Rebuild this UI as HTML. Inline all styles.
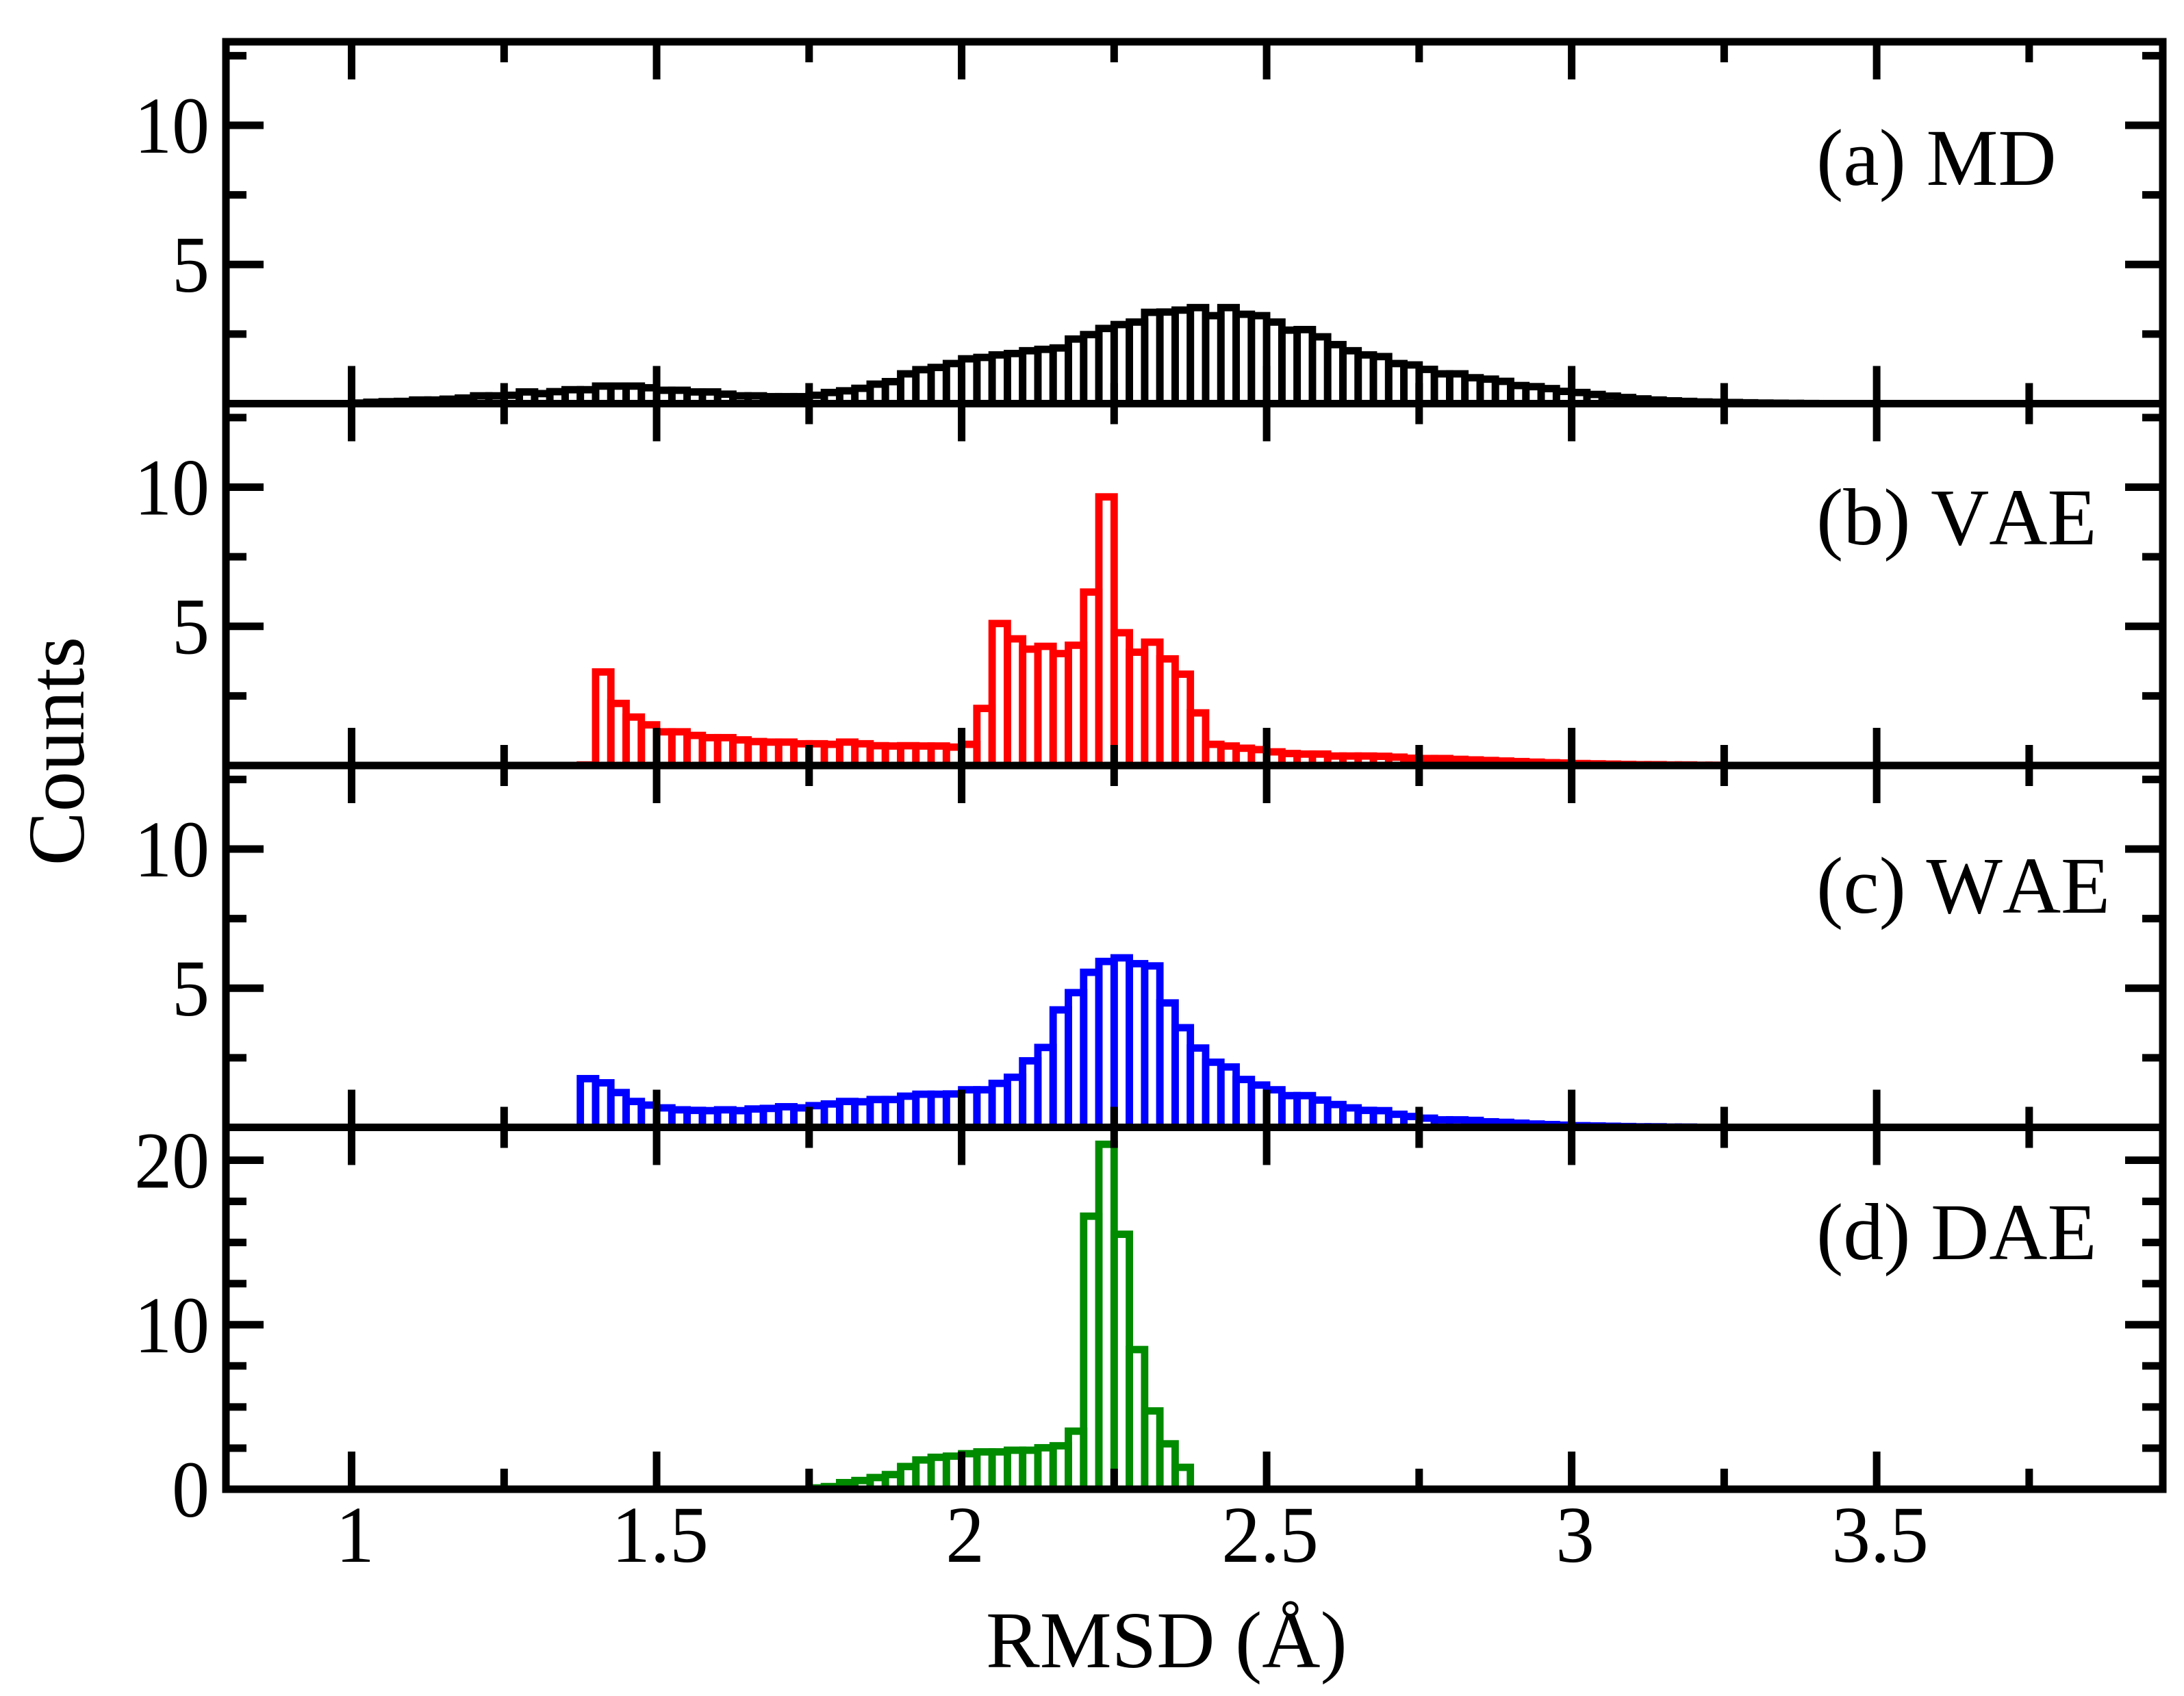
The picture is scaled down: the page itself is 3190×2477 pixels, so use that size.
<!DOCTYPE html>
<html lang="en">
<head>
<meta charset="utf-8">
<title>RMSD histograms</title>
<style>
html,body{margin:0;padding:0;background:#fff;}
svg{display:block;}
text{font-family:"Liberation Serif",serif;font-size:118px;fill:#000;font-kerning:none;}
</style>
</head>
<body>
<svg id="chart" xmlns="http://www.w3.org/2000/svg" width="3190" height="2477" viewBox="0 0 3190 2477">
<rect x="0" y="0" width="3190" height="2477" fill="#ffffff"/>
<g id="marks"></g>
<g id="axes"></g>
<text x="1440" y="2435">RMSD (Å)</text>
<text transform="translate(122 1097) rotate(-90)" text-anchor="middle">Counts</text>
<text x="2653" y="270">(a) MD</text>
<text x="2653" y="795">(b) VAE</text>
<text x="2653" y="1333">(c) WAE</text>
<text x="2653" y="1839">(d) DAE</text>
</svg>
<script>
// Chart data: bin width, first bin edge and counts per bin
const binWidth = 0.025;
const mdStart = 1.0;
const mdCounts = [0.02,0.05,0.07,0.08,0.13,0.13,0.16,0.2,0.28,0.28,0.3,0.42,0.36,0.43,0.5,0.5,0.63,0.63,0.63,0.57,0.48,0.48,0.42,0.42,0.34,0.28,0.28,0.25,0.25,0.25,0.3,0.4,0.46,0.55,0.7,0.79,1.07,1.22,1.3,1.44,1.61,1.66,1.75,1.8,1.9,1.95,2.0,2.32,2.48,2.7,2.84,2.93,3.28,3.29,3.36,3.45,3.16,3.45,3.21,3.16,2.93,2.64,2.66,2.4,2.12,1.9,1.75,1.69,1.44,1.39,1.23,1.07,1.07,0.93,0.88,0.8,0.65,0.61,0.54,0.44,0.4,0.33,0.27,0.22,0.17,0.13,0.1,0.08,0.06,0.05,0.04,0.03,0.02,0.015,0.01,0.005];
const vaeStart = 1.375;
const vaeCounts = [0.02,3.36,2.23,1.74,1.46,1.21,1.21,1.08,1.0,1.0,0.92,0.86,0.84,0.84,0.78,0.78,0.76,0.84,0.78,0.71,0.7,0.71,0.7,0.7,0.66,0.76,2.05,5.1,4.55,4.18,4.28,4.02,4.32,6.23,9.65,4.77,4.07,4.43,3.83,3.28,1.89,0.76,0.7,0.62,0.57,0.49,0.43,0.41,0.41,0.34,0.34,0.34,0.33,0.3,0.26,0.25,0.25,0.22,0.2,0.18,0.16,0.14,0.12,0.1,0.09,0.07,0.06,0.05,0.04,0.03,0.03,0.02,0.02,0.01,0.01];
const waeStart = 1.375;
const waeCounts = [1.75,1.6,1.25,0.93,0.8,0.7,0.63,0.61,0.6,0.63,0.6,0.66,0.68,0.74,0.7,0.78,0.84,0.93,0.92,1.0,1.0,1.12,1.19,1.19,1.2,1.35,1.35,1.58,1.8,2.39,2.87,4.22,4.84,5.57,5.96,6.09,5.88,5.8,4.47,3.58,2.85,2.34,2.17,1.72,1.52,1.35,1.14,1.14,0.98,0.82,0.7,0.61,0.6,0.47,0.39,0.33,0.27,0.27,0.25,0.2,0.18,0.15,0.12,0.1,0.08,0.06,0.05,0.04,0.03,0.02,0.02,0.01,0.01];
const daeStart = 1.75;
const daeCounts = [0.08,0.16,0.4,0.53,0.71,0.89,1.38,1.78,1.94,2.01,2.16,2.27,2.27,2.37,2.37,2.52,2.64,3.53,16.6,20.97,15.5,8.49,4.76,2.76,1.33];

// Tick values and labels
const xMajorTicks = [1,1.5,2,2.5,3,3.5];
const xMajorLabels = ["1","1.5","2","2.5","3","3.5"];
const xMinorTicks = [1.25,1.75,2.25,2.75,3.25,3.75];
const yMajorTicksUpper = [5,10];
const yMajorLabelsUpper = ["5","10"];
const yMinorTicksUpper = [2.5,7.5,12.5];
const yMajorTicksLower = [10,20];
const yMajorLabelsLower = ["10","20"];
const yMinorTicksLower = [2.5,5,7.5,12.5,15,17.5];
const yZeroLabel = "0";
const xDomain = [0.794,3.969];
const yMaxUpper = 13;
const yMaxLower = 22;

const NS = 'http://www.w3.org/2000/svg';
const marks = document.getElementById('marks');
const axes = document.getElementById('axes');
const plotLeft = 330, plotRight = 3159;
const pxPerUnit = (plotRight - plotLeft) / (xDomain[1] - xDomain[0]);
const xScale = v => plotLeft + (v - xDomain[0]) * pxPerUnit;
const panelBottoms = [589.5,1118,1646.5,2175];
const panelHeight = 528.5;
const yScale = (v, bottom, yMax) => bottom - v * panelHeight / yMax;

function make(tag, attrs, parent){
  const el = document.createElementNS(NS, tag);
  for (const k in attrs) el.setAttribute(k, attrs[k]);
  parent.appendChild(el);
  return el;
}

function drawSeries(name, start, counts, color, bottom, yMax){
  const g = make('g', {}, marks);
  
  
  counts.forEach((c, i) => {
    const x0 = xScale(start + i * binWidth);
    const x1 = xScale(start + (i + 1) * binWidth);
    const top = yScale(c, bottom, yMax);
    const bar = make('rect', {x:x0, y:top, width:x1 - x0, height:bottom - top, fill:'none', stroke:color, 'stroke-width':10.8}, g);
    
    
  });
}

function line(x1, y1, x2, y2, w, parent){
  return make('line', {x1:x1, y1:y1, x2:x2, y2:y2, stroke:'#000', 'stroke-width':w}, parent);
}

function drawPanel(name, bottom, yMax, majors, labels, minors, withZero){
  const top = bottom - panelHeight;
  const g = make('g', {}, axes);
  
  
  const frame = make('rect', {x:plotLeft, y:top, width:plotRight - plotLeft, height:panelHeight, fill:'none', stroke:'#000', 'stroke-width':11}, g);
  
  
  const major = 55, minor = 30, w = 11;
  xMajorTicks.forEach(v => {
    const x = xScale(v);
    const t1 = line(x, top, x, top + major, w, g);
    
    
    const t2 = line(x, bottom, x, bottom - major, w, g);
    
    
  });
  xMinorTicks.forEach(v => {
    const x = xScale(v);
    const t1 = line(x, top, x, top + minor, w, g);
    
    
    const t2 = line(x, bottom, x, bottom - minor, w, g);
    
    
  });
  majors.forEach((v, i) => {
    const y = yScale(v, bottom, yMax);
    const t1 = line(plotLeft, y, plotLeft + major, y, w, g);
    
    
    const t2 = line(plotRight, y, plotRight - major, y, w, g);
    
    
    const lab = make('text', {transform:'translate(306 ' + (y + 40) + ') scale(0.93 1)', 'text-anchor':'end'}, g);
    lab.textContent = labels[i];
    
    
  });
  minors.forEach(v => {
    const y = yScale(v, bottom, yMax);
    const t1 = line(plotLeft, y, plotLeft + minor, y, w, g);
    
    
    const t2 = line(plotRight, y, plotRight - minor, y, w, g);
    
    
  });
  if (withZero){
    const zero = make('text', {transform:'translate(306 ' + (bottom + 40) + ') scale(0.93 1)', 'text-anchor':'end'}, g);
    zero.textContent = yZeroLabel;
    
    
  }
}

drawSeries('md', mdStart, mdCounts, '#000000', panelBottoms[0], yMaxUpper);
drawSeries('vae', vaeStart, vaeCounts, '#ff0000', panelBottoms[1], yMaxUpper);
drawSeries('wae', waeStart, waeCounts, '#0000ff', panelBottoms[2], yMaxUpper);
drawSeries('dae', daeStart, daeCounts, '#008b00', panelBottoms[3], yMaxLower);

drawPanel('panel-a', panelBottoms[0], yMaxUpper, yMajorTicksUpper, yMajorLabelsUpper, yMinorTicksUpper, false);
drawPanel('panel-b', panelBottoms[1], yMaxUpper, yMajorTicksUpper, yMajorLabelsUpper, yMinorTicksUpper, false);
drawPanel('panel-c', panelBottoms[2], yMaxUpper, yMajorTicksUpper, yMajorLabelsUpper, yMinorTicksUpper, false);
drawPanel('panel-d', panelBottoms[3], yMaxLower, yMajorTicksLower, yMajorLabelsLower, yMinorTicksLower, true);

xMajorTicks.forEach((v, i) => {
  const lab = make('text', {transform:'translate(' + (xScale(v) + 5) + ' 2281) scale(0.96 1)', 'text-anchor':'middle'}, axes);
  lab.textContent = xMajorLabels[i];
  
  
});
</script>
</body>
</html>
